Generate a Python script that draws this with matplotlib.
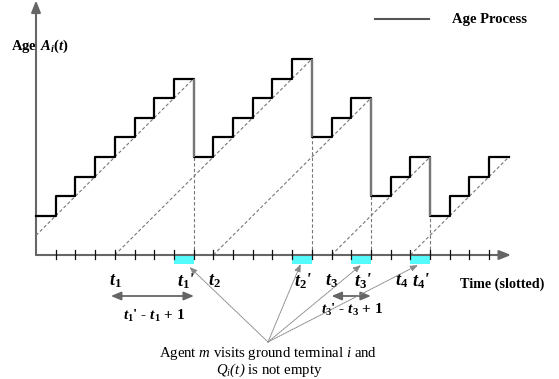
import matplotlib
matplotlib.use("Agg")
import matplotlib.pyplot as plt
from matplotlib.patches import Rectangle

plt.rcParams['font.family'] = ['Liberation Serif', 'DejaVu Serif']
plt.rcParams['mathtext.fontset'] = 'custom'
plt.rcParams['mathtext.rm'] = 'Liberation Serif:bold'
plt.rcParams['mathtext.it'] = 'Liberation Serif:bold:italic'
plt.rcParams['mathtext.bf'] = 'Liberation Serif:bold'
plt.rcParams['mathtext.sf'] = 'Liberation Serif:italic'

# ---------------- data ----------------
# age value held during each time slot k -> k+1
age_values = [2, 3, 4, 5, 6, 7, 8, 9,
              5, 6, 7, 8, 9, 10,
              6, 7, 8,
              3, 4, 5,
              2, 3, 4, 5]
drop_times = [8, 14, 17, 20]                 # slots where the age drops
visit_slots = [7, 13, 16, 19]                # cyan slots (visit, queue not empty)
gen_times = [-1, 4, 9, 15, 19]               # packet generation times (dashed lines)
cycle_ends = [8, 14, 17, 20, 24]             # end of each dashed line
n_ticks = 23

t_labels = [r"$t_{\mathit{1}}$", r"$t_{\mathit{1}}$'", r"$t_{\mathit{2}}$",
            r"$t_{\mathit{2}}$'", r"$t_{\mathit{3}}$", r"$t_{\mathit{3}}$'",
            r"$t_{\mathit{4}}$", r"$t_{\mathit{4}}$'"]
t_label_x = [4.05, 7.6, 9.05, 13.55, 15.0, 16.6, 18.55, 19.55]

# ---------------- figure ----------------
XU, YU, X0, Y0 = 19.7, 19.6, 36.0, 255.0   # pixel scale of one slot / one age unit
def px(x):
    return (x - X0) / XU
def py(y):
    return (Y0 - y) / YU

fig = plt.figure(figsize=(5.59, 3.79), dpi=100)
ax = fig.add_axes([0, 0, 1, 1])
ax.set_xlim(px(0), px(559))
ax.set_ylim(py(379), py(0))
ax.axis('off')

axis_col = '#666666'
dash_col = '#777777'

# cyan visit slots
for k in visit_slots:
    ax.add_patch(Rectangle((k, -0.47), 1, 0.47, facecolor='#55fbfb',
                           edgecolor='none', zorder=2))

# axes with arrows
ax.annotate('', xy=(px(511), 0), xytext=(0, 0),
            arrowprops=dict(arrowstyle='-|>,head_length=0.7,head_width=0.28',
                            color=axis_col, lw=1.5, shrinkA=0, shrinkB=0), zorder=3)
ax.annotate('', xy=(0, py(0.5)), xytext=(0, 0),
            arrowprops=dict(arrowstyle='-|>,head_length=0.7,head_width=0.28',
                            color=axis_col, lw=1.5, shrinkA=0, shrinkB=0), zorder=3)

# ticks
for k in range(1, n_ticks + 1):
    ax.plot([k, k], [-0.2, 0.25], color='#111111', lw=0.9, zorder=4)

# dashed diagonals
for g, e in zip(gen_times, cycle_ends):
    x_start = max(g, 0)
    ax.plot([x_start, e], [x_start - g, e - g], color=dash_col, lw=0.8,
            dashes=(3, 2), zorder=3)

# vertical dashed lines at drops
for d in drop_times:
    ax.plot([d, d], [0, age_values[d]], color=dash_col, lw=0.8,
            dashes=(3, 2), zorder=3)

# staircase age process
xs = list(range(len(age_values) + 1))
ys = age_values + [age_values[-1]]
ax.step(xs, ys, where='post', color='black', lw=1.6, zorder=5)
for d in drop_times:
    ax.plot([d, d], [age_values[d - 1], age_values[d]], color='#7a7a7a',
            lw=1.4, zorder=6, solid_capstyle='butt')

# legend
ax.plot([px(375), px(429)], [py(19), py(19)], color='#555555', lw=1.5)
ax.text(px(452), py(20), 'Age Process', fontsize=10.5, fontweight='bold',
        ha='left', va='center')

# axis labels
ax.text(px(40), py(46), r'Age $\,A_i(t)$', fontsize=10.5, fontweight='bold',
        ha='center', va='center')
ax.text(px(460), py(284), 'Time (slotted)', fontsize=10.2, fontweight='bold',
        ha='left', va='center')

# t labels
for lab, x in zip(t_labels, t_label_x):
    ax.text(x, py(281), lab, fontsize=13, fontweight='bold', fontstyle='italic',
            ha='center', va='center')

# interval double arrows
for (a, b) in [(3.8, 8.02), (15.0, 17.0)]:
    ax.annotate('', xy=(b, py(296)), xytext=(a, py(296)),
                arrowprops=dict(arrowstyle='<|-|>,head_length=0.6,head_width=0.25',
                                color=axis_col, lw=1.3, shrinkA=0, shrinkB=0))
lab1 = r"$t_{1}$' - $t_{\mathit{1}}$ + 1"
lab3 = r"$t_{3}$' - $t_{\mathit{3}}$ + 1"
ax.text(px(154), py(316), lab1, fontsize=11, fontweight='bold',
        ha='center', va='center')
ax.text(px(352), py(310), lab3, fontsize=11, fontweight='bold',
        ha='center', va='center')

# annotation pointers
src = (px(268), py(342))
for tx, ty in [(189.5, 267), (300.7, 264), (361, 265), (418, 265)]:
    ax.annotate('', xy=(px(tx), py(ty)), xytext=src,
                arrowprops=dict(arrowstyle='-|>,head_length=0.45,head_width=0.18',
                                color='#888888', lw=0.7, linestyle=(0, (1.5, 1)),
                                shrinkA=0, shrinkB=0))

ax.text(px(268), py(354), r'Agent $\mathsf{m}$ visits ground terminal $\mathsf{i}$ and',
        fontsize=10.6, ha='center', va='center')
ax.text(px(269), py(370), r'$\mathsf{Q_{i}(t)}$ is not empty',
        fontsize=10.6, ha='center', va='center')

fig.savefig('out.png', dpi=100)
